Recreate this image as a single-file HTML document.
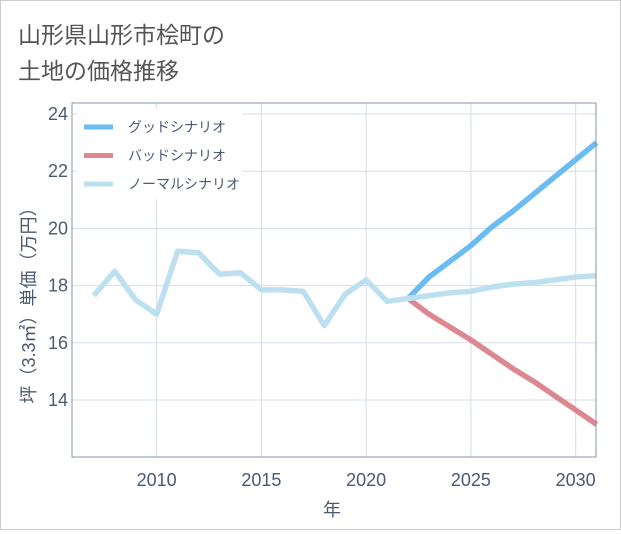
<!DOCTYPE html>
<html><head><meta charset="utf-8"><style>
body{margin:0;background:#fff;font-family:"Liberation Sans","Noto Sans CJK JP",sans-serif}
#wrap{position:relative;width:619px;height:528px;border:1px solid #ccc;background:#fff}
</style></head><body>
<div id="wrap">
<svg id="c" width="619" height="528" xmlns="http://www.w3.org/2000/svg">
<text x="17" y="42" font-size="23" fill="#555" font-family="Liberation Sans, Noto Sans CJK JP, sans-serif">山形県山形市桧町の</text>
<text x="17" y="78" font-size="23" fill="#555" font-family="Liberation Sans, Noto Sans CJK JP, sans-serif">土地の価格推移</text>
<g id="grid"></g><g id="lines"></g><g id="axes"></g>
</svg></div>
<script>
const years=[2007,2008,2009,2010,2011,2012,2013,2014,2015,2016,2017,2018,2019,2020,2021,2022,2023,2024,2025,2026,2027,2028,2029,2030,2031];
const normal=[17.65,18.5,17.5,17.0,19.2,19.15,18.4,18.45,17.85,17.85,17.8,16.6,17.7,18.2,17.45,17.55,17.65,17.75,17.8,17.95,18.05,18.1,18.2,18.3,18.35];
const goodYears=[2022,2023,2024,2025,2026,2027,2028,2029,2030,2031];
const good=[17.55,18.3,18.85,19.4,20.05,20.6,21.2,21.8,22.4,23.0];
const bad=[17.55,17.0,16.55,16.1,15.6,15.1,14.65,14.15,13.65,13.15];
const xTicks=[2010,2015,2020,2025,2030];
const yTicks=[14,16,18,20,22,24];
const L=71,R=595,T=102,B=456;
const X=v=>L+(v-2005.96)*20.95, Y=v=>113+(24-v)*28.6;
const NS='http://www.w3.org/2000/svg';
function mk(p,t,a){const e=document.createElementNS(NS,t);for(const k in a)e.setAttribute(k,a[k]);document.getElementById(p).appendChild(e);return e;}
xTicks.forEach(t=>{const e=mk('grid','line',{x1:X(t),x2:X(t),y1:T,y2:B,stroke:'#d5dde8','stroke-width':1});


const l=mk('axes','text',{x:X(t),y:485,'text-anchor':'middle','font-size':18,fill:'#4a5a70'});l.textContent=t;

});
yTicks.forEach(t=>{const e=mk('grid','line',{x1:L,x2:R,y1:Y(t),y2:Y(t),stroke:'#d5dde8','stroke-width':1});


const l=mk('axes','text',{x:67,y:Y(t)+6,'text-anchor':'end','font-size':18,fill:'#4a5a70'});l.textContent=t;

});
function path(xs,ys,c,n){const d=xs.map((x,i)=>(i?'L':'M')+X(x)+','+Y(ys[i])).join(' ');
const e=mk('lines','path',{d:d,fill:'none',stroke:c,'stroke-width':5.5,'stroke-linejoin':'round'});

}
path(goodYears,good,'#6bbcf2','good-scenario-line');
path(goodYears,bad,'#dd8890','bad-scenario-line');
path(years,normal,'#bde0f0','normal-scenario-line');
const lb=mk('axes','rect',{x:76,y:108,width:165,height:90,fill:'#fff'});


[['グッドシナリオ','#6bbcf2'],['バッドシナリオ','#dd8890'],['ノーマルシナリオ','#bde0f0']].forEach((s,i)=>{
const y=126+i*28.5;
const ln=mk('axes','line',{x1:83,x2:112,y1:y,y2:y,stroke:s[1],'stroke-width':5});


const t=mk('axes','text',{x:127,y:y+5,'font-size':14,fill:'#4a5a70'});t.textContent=s[0];

});
const bx=mk('axes','rect',{x:L,y:T,width:R-L,height:B-T,fill:'none',stroke:'#8a96a8','stroke-width':1});


const xt=mk('axes','text',{x:331,y:515,'text-anchor':'middle','font-size':18,fill:'#4a5a70'});xt.textContent='年';


const yt=mk('axes','text',{x:0,y:0,'text-anchor':'middle','font-size':18,fill:'#4a5a70',transform:'translate(34,300) rotate(-90)'});yt.textContent='坪（3.3㎡）単価（万円）';


</script></body></html>
